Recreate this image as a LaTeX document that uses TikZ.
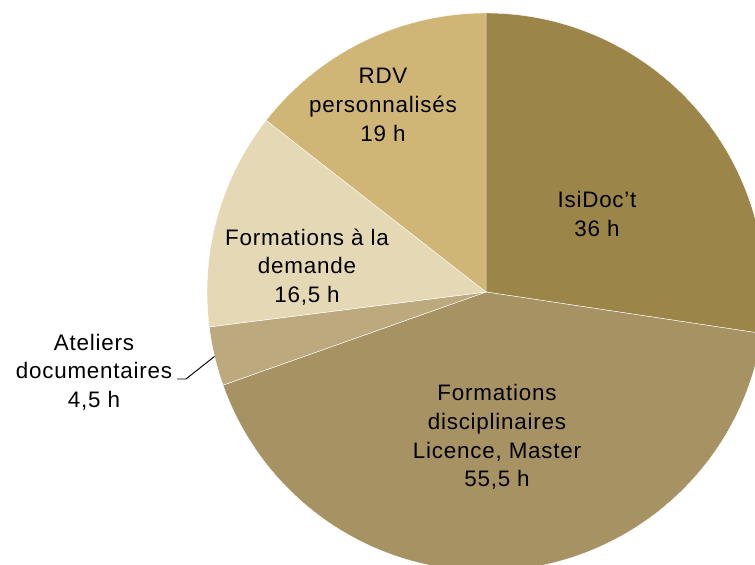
\documentclass[tikz,border=0pt]{standalone}
\usepackage{fontspec}
\setmainfont[LetterSpace=3.5]{Liberation Sans}
\usepackage{tikz}
\usetikzlibrary{positioning,calc}

\definecolor{isidoc}{HTML}{9C8548}
\definecolor{discip}{HTML}{A69262}
\definecolor{ateliers}{HTML}{BCA97D}
\definecolor{demande}{HTML}{E5D8B5}
\definecolor{rdv}{HTML}{CFB677}

\begin{document}
\begin{tikzpicture}[x=0.75pt, y=0.75pt]
\tikzset{
slice/.style    = {draw=white, line width=0.3pt},
lbl/.style      = {align=center, inner sep=0pt, font=\fontsize{16.8}{21.5}\selectfont},
lead/.style     = {draw=black, line width=0.7pt},
coord/.style    = {coordinate},
}
    \clip (0,0) rectangle (755,564);
    \useasboundingbox (0,0) rectangle (755,564);

    % Pie centre
    \coordinate (pie_c) at (486,272);

    % Slices: start angle / end angle / colour
    \foreach \a/\b/\c in {90/-8.555/isidoc, -8.555/-160.494/discip,
        -160.494/-172.813/ateliers, -172.813/-217.984/demande, -217.984/-270/rdv}
        \filldraw [slice, fill=\c] (pie_c) -- ++(\a:279)
            arc[start angle=\a, end angle=\b, radius=279] -- cycle;

    % Slice labels
    \node [lbl] (lbl_isidoc)  at (597,350) {IsiDoc’t\\36 h};
    \node [lbl] (lbl_discip)  at (497,127) {Formations\\disciplinaires\\Licence, Master\\55,5 h};
    \node [lbl] (lbl_demande) at (307,297) {Formations à la\\demande\\16,5 h};
    \node [lbl] (lbl_rdv)     at (383,459) {RDV\\personnalisés\\19 h};

    % Ateliers label, outside with a leader
    \node [lbl] (lbl_ateliers) at (94,192) {Ateliers\\documentaires\\4,5 h};
    \coordinate (atl_tip)  at ($(pie_c)+(-166.65:279)$);
    \coordinate (atl_knee) at (186,185);
    \coordinate (atl_end)  at (177,185);
    \draw [lead] (atl_tip) -- (atl_knee) -- (atl_end);

\end{tikzpicture}
\end{document}
